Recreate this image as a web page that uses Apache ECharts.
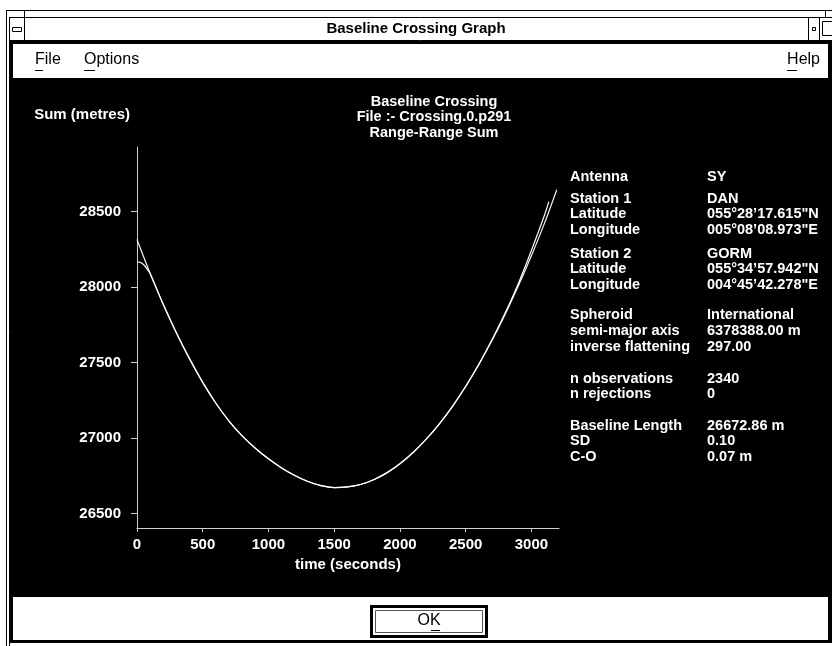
<!DOCTYPE html>
<html><head><meta charset="utf-8">
<script src="https://cdn.jsdelivr.net/npm/echarts@6/dist/echarts.min.js"></script>
<style>html,body{margin:0;padding:0;background:#fff}#c{width:832px;height:646px}</style>
</head><body><div id="c"></div>
<script>
// ---------- texts ----------
const windowTitle = 'Baseline Crossing Graph';
const menuItems = ['File', 'Options'];
const helpItem = 'Help';
const okLabel = 'OK';
const chartTitle = ['Baseline Crossing', 'File :- Crossing.0.p291', 'Range-Range Sum'];
const yAxisName = 'Sum (metres)';
const xAxisName = 'time (seconds)';

// ---------- tick labels ----------
const xTicks = [0, 500, 1000, 1500, 2000, 2500, 3000];
const yTicks = [26500, 27000, 27500, 28000, 28500];

// ---------- series: fitted range sum ----------
const fitTime = [0, 100, 200, 300, 400, 500, 600, 700, 800, 900, 1000, 1100, 1200, 1300, 1400, 1500, 1600,
  1700, 1800, 1900, 2000, 2100, 2200, 2300, 2400, 2500, 2600, 2700, 2800, 2900, 3000, 3100, 3193];
const fitSum = [28315, 28090, 27885, 27697, 27525, 27369, 27231, 27113, 27015, 26933, 26863, 26803, 26753,
  26713, 26686, 26673, 26677, 26693, 26725, 26770, 26830, 26905, 26993, 27095, 27211, 27342, 27487, 27646,
  27819, 28007, 28208, 28424, 28645];

// ---------- series: observed range sum ----------
const obsTime = [0, 20, 40, 60, 80, 100, 200, 300, 400, 500, 600, 700, 800, 900, 1000, 1100, 1200, 1300,
  1400, 1500, 1600, 1700, 1800, 1900, 2000, 2100, 2200, 2300, 2400, 2500, 2600, 2700, 2800, 2900, 3000,
  3100, 3133];
const obsSum = [28168, 28165, 28157, 28140, 28116, 28090, 27885, 27697, 27525, 27369, 27231, 27113, 27015,
  26933, 26863, 26803, 26753, 26713, 26686, 26673, 26677, 26693, 26725, 26770, 26830, 26905, 26993, 27095,
  27211, 27343, 27489, 27651, 27828, 28023, 28243, 28478, 28566];

// ---------- info panel ----------
const infoLabels = ['Antenna', 'Station 1', 'Latitude', 'Longitude', 'Station 2', 'Latitude', 'Longitude',
  'Spheroid', 'semi-major axis', 'inverse flattening', 'n observations', 'n rejections',
  'Baseline Length', 'SD', 'C-O'];
const infoValues = ['SY', 'DAN', '055°28\u201917.615"N', '005°08\u201908.973"E', 'GORM',
  '055°34\u201957.942"N', '004°45\u201942.278"E', 'International', '6378388.00 m', '297.00',
  '2340', '0', '26672.86 m', '0.10', '0.07 m'];
const infoRowY = [177, 199, 214, 230, 254, 269, 285, 315, 331, 347, 379, 394, 426, 441, 457];

// ---------- build ----------
const FONT = '"Liberation Sans", Arial, Helvetica, sans-serif';
const UIFONT = '"Liberation Sans Narrow", "Liberation Sans", Arial, sans-serif';
const AXC = '#cfcfcf';

const pairs = (xs, ys) => xs.map((x, i) => [x, ys[i]]);
const plain = v => String(v);

const g = [];
const line = (x1, y1, x2, y2, w, c) => g.push({type: 'line', z: -5, silent: true,
  shape: {x1, y1, x2, y2}, style: {stroke: c || '#000', lineWidth: w || 1}});
const rect = (x, y, w, h, fill, stroke, lw) => g.push({type: 'rect', z: -6, silent: true,
  shape: {x, y, width: w, height: h}, style: {fill: fill || 'none', stroke: stroke || null, lineWidth: lw || 0}});

// outer frame
line(6.5, 10, 6.5, 646);
line(6, 10.5, 832, 10.5);
line(24.5, 10, 24.5, 17);
line(825.5, 10, 825.5, 17);
// title bar
line(9, 17.5, 832, 17.5);
line(9.5, 17, 9.5, 646);
line(24.5, 17, 24.5, 40);
line(808.5, 17, 808.5, 40);
line(819.5, 17, 819.5, 40);
rect(12.5, 27.5, 9, 4, 'none', '#000', 1);
rect(812.5, 27.5, 3, 3, 'none', '#000', 1);
rect(822.5, 21.5, 10, 14, 'none', '#000', 1);
line(9, 40.5, 832, 40.5);
// heavy border of client area
rect(10, 41, 822, 3, '#000');
rect(10, 41, 3, 602, '#000');
rect(828, 41, 4, 602, '#000');
rect(10, 640, 822, 3, '#000');
// plot area background
rect(13, 78, 815, 519, '#000');
// OK button
rect(371.5, 606.5, 115, 30, '#fff', '#000', 3);
rect(375.5, 610.5, 107, 22, 'none', '#555', 1);

const txt = (text, x, y, opt) => g.push(Object.assign({type: 'text', z: 5, silent: true, x, y,
  style: Object.assign({text, fill: '#fff', font: 'bold 14.5px ' + FONT, textVerticalAlign: 'middle'}, opt || {})}));

txt(windowTitle, 416, 29, {fill: '#000', font: 'bold 15px ' + UIFONT, textAlign: 'center'});
txt(menuItems[0], 35, 60, {fill: '#000', font: '16px ' + UIFONT});
txt(menuItems[1], 84, 60, {fill: '#000', font: '16px ' + UIFONT});
txt(helpItem, 820, 60, {fill: '#000', font: '16px ' + UIFONT, textAlign: 'right'});
line(35, 70.5, 43, 70.5);
line(84, 70.5, 95, 70.5);
line(787, 70.5, 797, 70.5);
txt(okLabel, 429, 621, {fill: '#000', font: '16px ' + UIFONT, textAlign: 'center'});
line(431, 630.5, 440, 630.5);

infoLabels.forEach((l, i) => {
  txt(l, 570, infoRowY[i]);
  txt(infoValues[i], 707, infoRowY[i]);
});

const chart = echarts.init(document.getElementById('c'), null, {renderer: 'canvas'});
chart.setOption({
  backgroundColor: '#fff',
  animation: false,
  title: {
    text: chartTitle.join('\n'), left: 429, top: 89, textAlign: 'center',
    textStyle: {color: '#fff', fontSize: 14.5, fontWeight: 'bold', fontFamily: FONT, lineHeight: 15.5}
  },
  grid: {left: 137, top: 147, width: 422, height: 381, containLabel: false},
  xAxis: {
    type: 'value', min: 0, max: 3210,
    name: xAxisName, nameLocation: 'middle', nameGap: 26,
    nameTextStyle: {color: '#fff', fontSize: 15, fontWeight: 'bold', fontFamily: FONT},
    axisLine: {lineStyle: {color: AXC, width: 1}},
    axisTick: {length: 4, lineStyle: {color: AXC}, customValues: xTicks},
    axisLabel: {color: '#fff', fontSize: 15, fontWeight: 'bold', fontFamily: FONT, margin: 9,
      customValues: xTicks, formatter: plain},
    splitLine: {show: false}
  },
  yAxis: {
    type: 'value', min: 26405, max: 28928,
    name: yAxisName, nameLocation: 'end', nameGap: 32,
    nameTextStyle: {color: '#fff', fontSize: 15, fontWeight: 'bold', fontFamily: FONT, align: 'right',
      verticalAlign: 'middle', padding: [0, 7, 0, 0]},
    axisLine: {show: true, lineStyle: {color: AXC, width: 1}},
    axisTick: {show: true, length: 6, lineStyle: {color: AXC}, customValues: yTicks},
    axisLabel: {color: '#fff', fontSize: 15, fontWeight: 'bold', fontFamily: FONT, margin: 16,
      customValues: yTicks, formatter: plain},
    splitLine: {show: false}
  },
  series: [
    {type: 'line', data: pairs(fitTime, fitSum), showSymbol: false, smooth: 0.3,
     lineStyle: {color: '#f4f4f4', width: 1.2}},
    {type: 'line', data: pairs(obsTime, obsSum), showSymbol: false, smooth: 0.3,
     lineStyle: {color: '#ffffff', width: 1.2}}
  ],
  graphic: g
});
</script></body></html>
